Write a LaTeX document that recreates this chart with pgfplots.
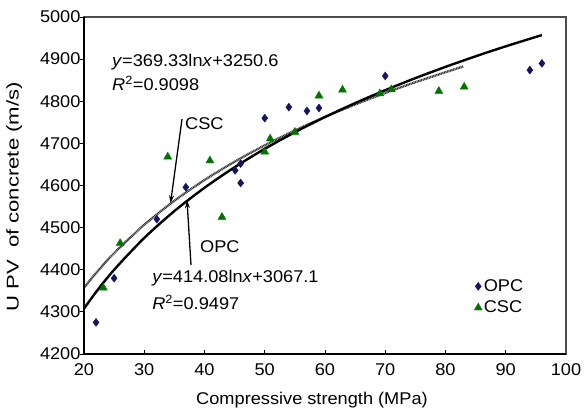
\documentclass[border=0pt]{standalone}
\usepackage{fontspec}
\setmainfont{Liberation Sans}[FakeStretch=1.07]
\newfontfamily\ylabfont{Liberation Sans}[FakeStretch=1.3]
\usepackage{pgfplots}
\pgfplotsset{compat=1.18}
\usetikzlibrary{arrows.meta}
\definecolor{opcblue}{RGB}{20,20,100}
\definecolor{cscgreen}{RGB}{0,115,0}
\newcommand{\lblfont}{\fontsize{17bp}{20bp}\selectfont}

\begin{document}
\begin{tikzpicture}
\begin{axis}[scale only axis, width=482bp, height=337bp,
  xmin=20, xmax=100, ymin=4200, ymax=5000,
  xtick={20,30,...,100}, ytick={4200,4300,...,5000},
  xtick pos=bottom, ytick pos=left, tick align=inside,
  major tick length=4bp, tick style={black, line width=0.9bp},
  y tick style={xshift=-4bp},
  axis line style={draw=black!70, line width=1.1bp},
  /pgf/number format/assume math mode=true,
  /pgf/number format/1000 sep={},
  ticklabel style={font=\lblfont},
  xticklabel style={yshift=-6bp},
  xlabel={Compressive strength (MPa)},
  ylabel={\ylabfont U PV\ \ of concrete (m/s)},
  xlabel style={font=\lblfont, at={(axis description cs:0.473,-0.137)}, anchor=center},
  ylabel style={font=\lblfont, at={(axis description cs:-0.145,0.466)}, anchor=center},
  legend style={draw=none, fill=none, at={(axis description cs:0.862,0.169)}, anchor=center,
    font=\lblfont, row sep=5bp, inner sep=0pt, nodes={inner sep=1.5bp}},
  legend cell align=left,
  legend image code/.code={\draw[#1] plot coordinates {(0.1cm,0cm)};},
  clip=false]

% measured points
\addplot[only marks, mark=diamond*, mark size=4bp, color=opcblue] coordinates {
(22.0,4275) (25.0,4380) (32.1,4520) (36.9,4596) (45.1,4636) (46.0,4652) (46.0,4606)
(50.0,4760) (54.0,4786) (57.0,4777) (59.0,4784) (70.0,4860) (94.0,4874) (96.0,4890)};
\addplot[only marks, mark=triangle*, mark size=4.6bp, color=cscgreen] coordinates {
(23.2,4357) (26.0,4463) (33.9,4668) (40.9,4659) (42.9,4525) (50.0,4680) (50.9,4711)
(55.0,4727) (59.0,4813) (62.9,4827) (69.1,4818) (71.0,4828) (78.9,4824) (83.1,4834)};
\legend{OPC, CSC}

% log trend lines (values of the fitted equations)
\addplot[forget plot, smooth, black!80, line width=2.3bp, dash pattern=on 1bp off 0.6bp] coordinates {
(20,4357.0) (22,4392.2) (25,4439.4) (30,4506.8) (35,4563.7) (40,4613.0) (45,4656.5)
(50,4695.4) (55,4730.6) (60,4762.8) (65,4792.3) (70,4819.7) (75,4845.2) (80,4869.0) (83,4882.6)};
\addplot[forget plot, smooth, black, line width=2.4bp] coordinates {
(20,4307.6) (22,4347.0) (25,4400.0) (30,4475.5) (35,4539.3) (40,4594.6) (45,4643.4)
(50,4687.0) (55,4726.5) (60,4762.5) (65,4795.6) (70,4826.3) (75,4854.9) (80,4881.6)
(85,4906.7) (90,4930.4) (96,4957.1)};

% annotations
\node[anchor=west, inner sep=0pt, font=\lblfont] at (axis cs:24.65,4893) {\textit{y}=369.33ln\textit{x}+3250.6};
\node[anchor=west, inner sep=0pt, font=\lblfont] at (axis cs:24.65,4843) {\textit{R}\textsuperscript{2}=0.9098};
\node[anchor=west, inner sep=0pt, font=\lblfont] at (axis cs:31.3,4380) {\textit{y}=414.08ln\textit{x}+3067.1};
\node[anchor=west, inner sep=0pt, font=\lblfont] at (axis cs:31.3,4323) {\textit{R}\textsuperscript{2}=0.9497};
\node[anchor=west, inner sep=0pt, font=\lblfont] at (axis cs:36.76,4748) {CSC};
\node[anchor=west, inner sep=0pt, font=\lblfont] at (axis cs:39.25,4454) {OPC};
\draw[-{Stealth[length=8bp,width=5bp]}, line width=1.3bp] (axis cs:36.27,4758) -- (axis cs:34.36,4558);
\draw[-{Stealth[length=8bp,width=5bp]}, line width=1.3bp] (axis cs:37.76,4411) -- (axis cs:37.1,4565);

% darker left and bottom axis lines
\draw[black, line width=1.4bp] (rel axis cs:0,1) -- (rel axis cs:0,0) -- (rel axis cs:1,0);
\coordinate (bl) at (rel axis cs:0,0);
\end{axis}
\pgfresetboundingbox
\path[use as bounding box] ([shift={(-84bp,-56bp)}]bl) rectangle ([shift={(501bp,354bp)}]bl);
\end{tikzpicture}
\end{document}
